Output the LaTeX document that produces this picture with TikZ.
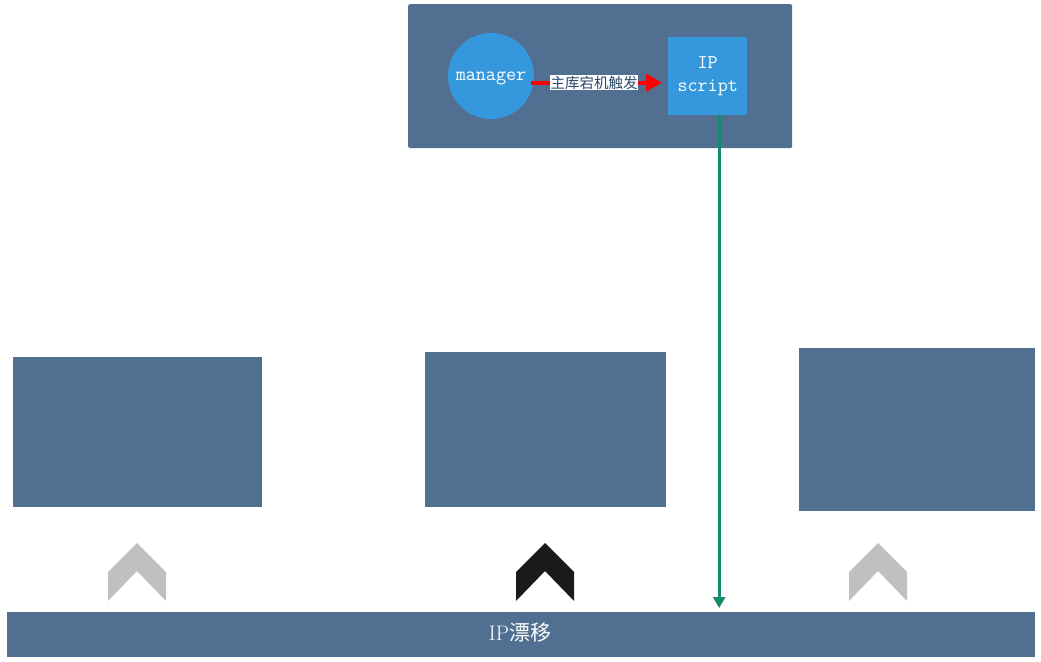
\documentclass[tikz,border=0pt]{standalone}
\usepackage{fontspec}
\newfontfamily\cjk{Noto Sans CJK SC}
\usetikzlibrary{arrows.meta}
\definecolor{slate}{RGB}{81,112,145}
\definecolor{bluec}{RGB}{53,152,220}
\definecolor{tealc}{RGB}{22,138,110}
\definecolor{chevgray}{RGB}{192,192,192}
\definecolor{chevdark}{RGB}{26,26,26}
\definecolor{labeltext}{RGB}{40,72,104}
\begin{document}
\begin{tikzpicture}[x=1pt,y=-1pt,
  panel/.style={fill=slate, draw=none, inner sep=0pt, anchor=north west},
  chev/.pic={\fill[#1] (0,0) -- (29,29) -- (29,58) -- (0,28) -- (-29,58) -- (-29,29) -- cycle;}
]
\useasboundingbox (0,0) rectangle (1041,661);
% top panel
\node[panel, rounded corners=1.5pt, minimum width=384pt, minimum height=144pt] (top) at (408,4) {};
\node[circle, fill=bluec, minimum size=86pt, inner sep=0pt, text=white, text depth=0pt,
      font=\ttfamily\fontsize{19.5}{19.5}\selectfont] (mgr) at (491,76) {manager};
\node[fill=bluec, minimum width=79pt, minimum height=78pt, inner sep=0pt, anchor=north west,
      align=center, text=white, font=\ttfamily\fontsize{19.5}{23}\selectfont] (ips) at (668,37) {IP\\script};
\draw[red, line width=4pt, -{Triangle[length=16pt,width=17pt]}, shorten >=6pt, shorten <=-3pt]
  (mgr.-9.4) -- (ips.west |- mgr.-9.4)
  node[pos=0.45, fill=white, inner sep=0.6pt, text=labeltext, font=\cjk\fontsize{14.5}{14.5}\selectfont] (lbl) {主库宕机触发};
% lower panels
\node[panel, minimum width=249pt, minimum height=150pt] (b1) at (13,357) {};
\node[panel, minimum width=241pt, minimum height=155pt] (b2) at (425,352) {};
\node[panel, minimum width=236pt, minimum height=163pt] (b3) at (799,348) {};
% chevrons
\pic at (137,543) {chev=chevgray};
\pic at (545,543) {chev=chevdark};
\pic at (878,543) {chev=chevgray};
% bottom bar
\node[panel, minimum width=1028pt, minimum height=45pt] (bar) at (7,612) {};
\node[text=white, font=\fontsize{21}{21}\selectfont, inner sep=0pt] (bartxt) at (520,633) {IP{\cjk 漂移}};
% green arrow
\coordinate (gs) at ([xshift=11.5pt]ips.south);
\draw[tealc, line width=3pt, -{Triangle[length=11pt,width=12pt]}, shorten >=4pt]
  (gs) -- (gs |- bar.north);
\end{tikzpicture}
\end{document}
